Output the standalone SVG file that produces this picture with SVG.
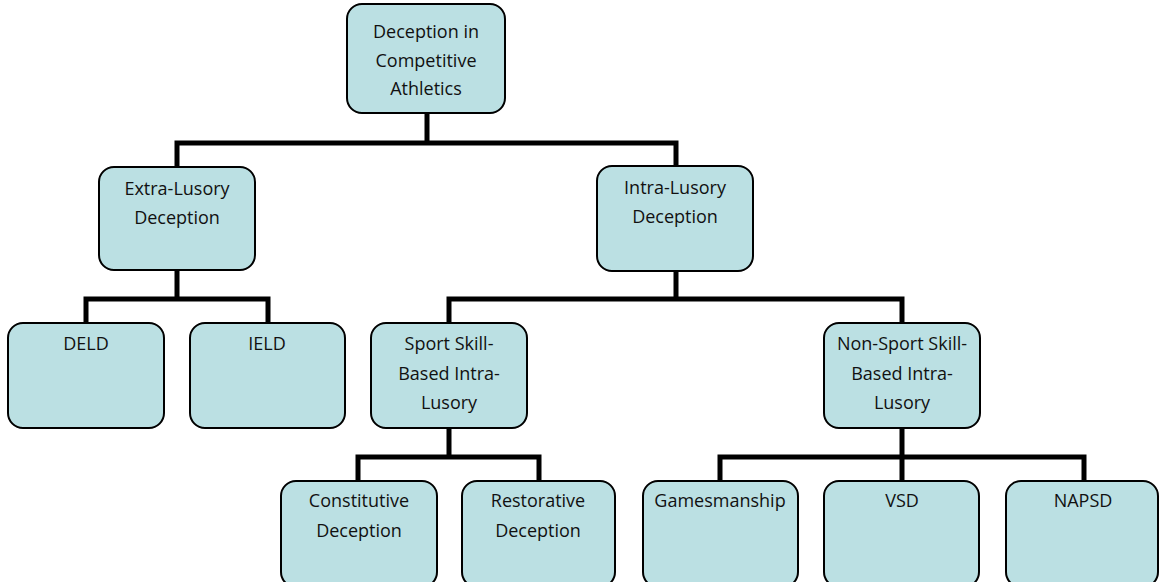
<svg xmlns="http://www.w3.org/2000/svg" width="1160" height="582" viewBox="0 0 1160 582">
  <style>
    .box { fill: #BBE0E3; stroke: #000000; stroke-width: 2; }
    .lbl { font-family: "Open Sans", "Liberation Sans", sans-serif; font-size: 18px; fill: #111111; text-anchor: middle; }
    .conn { fill: none; stroke: #000000; stroke-width: 5; stroke-linejoin: miter; stroke-linecap: butt; }
  </style>
  <rect width="1160" height="582" fill="#ffffff"/>

  <!-- elbow connectors of the hierarchy -->
  <g id="connectors">
    <path class="conn" d="M427 112 V143 M177 168 V143 H676 V167"/>
    <path class="conn" d="M177 269 V299 M86 324 V299 H268 V324"/>
    <path class="conn" d="M676 270 V299 M449 324 V299 H902 V324"/>
    <path class="conn" d="M449 427 V457 M358 482 V457 H539 V482"/>
    <path class="conn" d="M902 427 V482 M720 482 V457 H1084 V482"/>
  </g>

  <g id="root">
    <rect class="box" x="347" y="4" width="158" height="109" rx="15"/>
    <text class="lbl" x="426" y="38">Deception in</text>
    <text class="lbl" x="426" y="67">Competitive</text>
    <text class="lbl" x="426" y="95">Athletics</text>
  </g>

  <g id="extra-lusory">
    <rect class="box" x="99" y="167" width="156" height="103" rx="15"/>
    <text class="lbl" x="177" y="195">Extra-Lusory</text>
    <text class="lbl" x="177" y="224">Deception</text>
  </g>

  <g id="intra-lusory">
    <rect class="box" x="597" y="166" width="156" height="105" rx="15"/>
    <text class="lbl" x="675" y="194">Intra-Lusory</text>
    <text class="lbl" x="675" y="223">Deception</text>
  </g>

  <g id="deld">
    <rect class="box" x="8" y="323" width="156" height="105" rx="15"/>
    <text class="lbl" x="86" y="350">DELD</text>
  </g>

  <g id="ield">
    <rect class="box" x="190" y="323" width="155" height="105" rx="15"/>
    <text class="lbl" x="267" y="350">IELD</text>
  </g>

  <g id="sport-skill">
    <rect class="box" x="371" y="323" width="156" height="105" rx="15"/>
    <text class="lbl" x="449" y="350">Sport Skill-</text>
    <text class="lbl" x="449" y="380">Based Intra-</text>
    <text class="lbl" x="449" y="409">Lusory</text>
  </g>

  <g id="non-sport-skill">
    <rect class="box" x="824" y="323" width="156" height="105" rx="15"/>
    <text class="lbl" x="902" y="350">Non-Sport Skill-</text>
    <text class="lbl" x="902" y="380">Based Intra-</text>
    <text class="lbl" x="902" y="409">Lusory</text>
  </g>

  <g id="constitutive">
    <rect class="box" x="281" y="481" width="156" height="106" rx="15"/>
    <text class="lbl" x="359" y="507">Constitutive</text>
    <text class="lbl" x="359" y="537">Deception</text>
  </g>

  <g id="restorative">
    <rect class="box" x="462" y="481" width="153" height="106" rx="15"/>
    <text class="lbl" x="538" y="507">Restorative</text>
    <text class="lbl" x="538" y="537">Deception</text>
  </g>

  <g id="gamesmanship">
    <rect class="box" x="643" y="481" width="155" height="106" rx="15"/>
    <text class="lbl" x="720" y="507">Gamesmanship</text>
  </g>

  <g id="vsd">
    <rect class="box" x="824" y="481" width="155" height="106" rx="15"/>
    <text class="lbl" x="902" y="507">VSD</text>
  </g>

  <g id="napsd">
    <rect class="box" x="1006" y="481" width="152" height="106" rx="15"/>
    <text class="lbl" x="1083" y="507">NAPSD</text>
  </g>
</svg>
